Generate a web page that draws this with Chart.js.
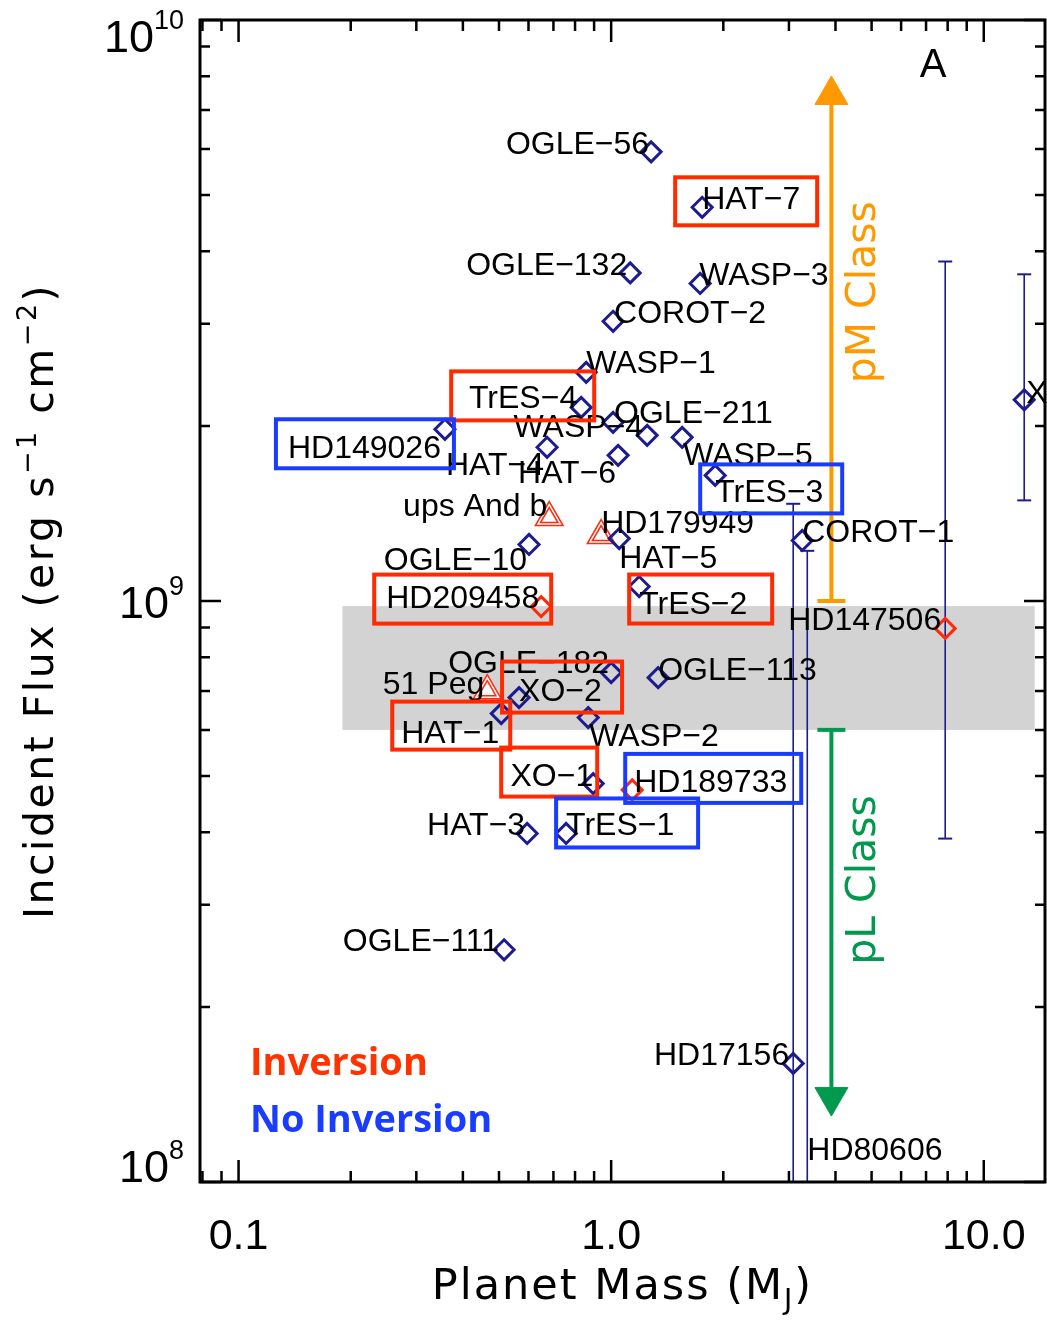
<!DOCTYPE html>
<html>
<head>
<meta charset="utf-8">
<script src="https://cdn.jsdelivr.net/npm/chart.js@4.4.1/dist/chart.umd.min.js"></script>
<style>
  html, body { margin: 0; padding: 0; background: #fff; overflow: hidden; }
  #wrap { width: 1047px; height: 1323px; }
  canvas { display: block; }
</style>
</head>
<body>
<div id="wrap"><canvas id="myChart" width="1047" height="1323"></canvas></div>
<script>
// planets drawn as navy diamonds (mass in M_J, incident flux in erg/s/cm2)
const navyNames = ['OGLE-56', 'HAT-7', 'OGLE-132', 'WASP-3', 'COROT-2', 'WASP-1', 'TrES-4', 'OGLE-211',
  'WASP-4', 'WASP-5', 'HD149026', 'HAT-4', 'HAT-6', 'TrES-3', 'HAT-5', 'COROT-1', 'OGLE-10', 'TrES-2',
  'OGLE-182', 'OGLE-113', 'XO-2', 'HAT-1', 'WASP-2', 'XO-1', 'HAT-3', 'TrES-1', 'OGLE-111', 'HD17156',
  'XO-3', 'HD80606'];
const navyMass = [1.28, 1.755, 1.125, 1.733, 1.012, 0.857, 0.831, 1.012,
  1.249, 1.551, 0.358, 0.673, 1.044, 1.902, 1.051, 3.257, 0.602, 1.189,
  1.0, 1.337, 0.566, 0.507, 0.868, 0.895, 0.595, 0.757, 0.516, 3.08,
  12.84, 3.36];
const navyFlux = [5.93e9, 4.76e9, 3.67e9, 3.52e9, 3.03e9, 2.475e9, 2.154e9, 2.03e9,
  1.928e9, 1.913e9, 1.975e9, 1.839e9, 1.781e9, 1.645e9, 1.281e9, 1.271e9, 1.251e9, 1.059e9,
  7.53e8, 7.38e8, 6.82e8, 6.40e8, 6.30e8, 4.85e8, 3.98e8, 3.98e8, 2.51e8, 1.60e8,
  2.22e9, 6.0e7];

// red diamonds
const redNames = ['HD209458', 'HD147506', 'HD189733'];
const redMass = [0.649, 7.88, 1.139];
const redFlux = [9.78e8, 8.97e8, 4.73e8];

// red triangles
const triNames = ['ups And b', 'HD179949', '51 Peg'];
const triMass = [0.682, 0.94, 0.465];
const triFlux = [1.392e9, 1.296e9, 7.01e8];

// flux ranges (error bars)
const errNames = ['HD17156', 'HD80606', 'HD147506', 'XO-3'];
const errMass = [3.08, 3.36, 7.88, 12.84];
const errHigh = [1.47e9, 1.22e9, 3.84e9, 3.65e9];
const errLow = [6.0e7, 6.0e7, 3.90e8, 1.49e9];

// class arrows and the grey transition band
const classNames = ['pM Class', 'pL Class'];
const classMass = 3.9;
const classFrom = [1.0e9, 6.0e8];
const classTo = [7.43e9, 1.40e8];
const classTextFlux = [3.4e9, 3.31e8];
const bandMass = [0.19, 13.7];
const bandFlux = [6.0e8, 9.8e8];

const xTicks = [0.1, 1, 10];
const xTickLabels = ['0.1', '1.0', '10.0'];
const yTicks = [1e8, 1e9, 1e10];
const yTickExp = ['8', '9', '10'];

const NAVY = '#1c1c8e', RED = '#ff2a0a', BOXRED = '#ff2a00', BOXBLUE = '#1a3cff';
const ORANGE = '#ff9900', GREEN = '#00994d';

// label placement: [name, align, dx, dy to baseline] (pixels from the point)
const labelSpec = [
  ['OGLE-56', 'right', -2, 2], ['HAT-7', 'left', 0, 2], ['OGLE-132', 'right', -3, 2],
  ['WASP-3', 'left', -1, 2], ['COROT-2', 'left', 1, 2], ['WASP-1', 'left', 0, 1],
  ['TrES-4', 'right', -4, 1], ['OGLE-211', 'left', 1, 1], ['WASP-4', 'right', -4, 2],
  ['WASP-5', 'left', 1, 28], ['HD149026', 'right', -4, 29], ['HAT-4', 'right', -3, 28],
  ['HAT-6', 'right', -2, 28], ['TrES-3', 'left', 0, 27], ['HAT-5', 'left', 0, 29],
  ['COROT-1', 'left', 0, 2], ['OGLE-10', 'right', -2, 26], ['TrES-2', 'left', 0, 27],
  ['OGLE-182', 'right', -2, 0], ['OGLE-113', 'left', 0, 2], ['XO-2', 'left', 0, 3],
  ['HAT-1', 'right', -2, 29], ['WASP-2', 'left', 1, 28], ['XO-1', 'right', 0, 2],
  ['HAT-3', 'right', -2, 2], ['TrES-1', 'left', 0, 2], ['OGLE-111', 'right', -5, 1, true],
  ['HD17156', 'right', -4, 2], ['XO-3', 'left', 2, 3], ['HD80606', 'left', 0, -151],
  ['HD209458', 'right', -2, 1], ['HD147506', 'right', -4, 2], ['HD189733', 'left', 2, 2],
  ['ups And b', 'right', -2, -2], ['HD179949', 'left', 0, -3], ['51 Peg', 'right', -3, 3]
];
// boxes round some labels: [name, colour, x0, x1, y0, y1] (pixels from the point)
const boxSpec = [
  ['HAT-7', BOXRED, -27, 115, -30, 18], ['TrES-4', BOXRED, -130, 13, -36, 13],
  ['HD209458', BOXRED, -167, 10, -32, 17], ['TrES-2', BOXRED, -10, 133, -12, 37],
  ['XO-2', BOXRED, -17, 103, -36, 15], ['HAT-1', BOXRED, -109, 9, -12, 36],
  ['XO-1', BOXRED, -92, 4, -36, 13], ['HD149026', BOXBLUE, -169, 9, -10, 39],
  ['TrES-3', BOXBLUE, -15, 127, -11, 38], ['HD189733', BOXBLUE, -7, 169, -36, 13],
  ['TrES-1', BOXBLUE, -10, 132, -35, 14]
];

function pts(ms, fs) { return ms.map((m, i) => ({ x: m, y: fs[i] })); }

function findPoint(name) {
  let i = navyNames.indexOf(name);
  if (i >= 0) return [navyMass[i], navyFlux[i]];
  i = redNames.indexOf(name);
  if (i >= 0) return [redMass[i], redFlux[i]];
  i = triNames.indexOf(name);
  return [triMass[i], triFlux[i]];
}

function dash(s) { return s.replace(/-/g, '\u2212'); }

// width of a string drawn char by char with extra spacing
function spacedWidth(c, s, ls) {
  let w = 0;
  for (const ch of s) w += c.measureText(ch).width + ls;
  return w;
}
function spacedText(c, s, x, y, ls) {
  for (const ch of s) { c.fillText(ch, x, y); x += c.measureText(ch).width + ls; }
}

// text with superscripts/subscripts: parts = [text, kind, shift], kind 0 normal, 1 sup, 2 sub
function richText(c, parts, x, y, font, small, ls, align) {
  c.textAlign = 'left';
  let w = 0;
  const ws = parts.map(p => { c.font = p[1] ? small : font; const m = spacedWidth(c, p[0], ls); w += m; return m; });
  let cx = align === 'center' ? x - w / 2 : (align === 'right' ? x - w : x);
  parts.forEach((p, i) => {
    c.font = p[1] ? small : font;
    const dy = p[1] === 1 ? -p[2] : (p[1] === 2 ? p[2] : 0);
    spacedText(c, p[0], cx, y + dy, ls);
    cx += ws[i];
  });
}

const bandPlugin = {
  id: 'band',
  beforeDatasetsDraw(chart) {
    const c = chart.ctx, xs = chart.scales.x, ys = chart.scales.y;
    const x0 = xs.getPixelForValue(bandMass[0]), x1 = xs.getPixelForValue(bandMass[1]);
    const y0 = ys.getPixelForValue(bandFlux[1]), y1 = ys.getPixelForValue(bandFlux[0]);
    c.save();
    c.fillStyle = '#d3d3d3';
    c.fillRect(x0, y0, x1 - x0, y1 - y0);
    c.restore();
  }
};

const decorPlugin = {
  id: 'decor',
  afterDatasetsDraw(chart) {
    const c = chart.ctx, xs = chart.scales.x, ys = chart.scales.y, a = chart.chartArea;
    c.save();
    c.textBaseline = 'alphabetic';
    // planet labels
    c.fillStyle = '#000';
    c.font = '32px "Liberation Sans"';
    labelSpec.forEach(l => {
      const p = findPoint(l[0]);
      const px = xs.getPixelForValue(p[0]), py = ys.getPixelForValue(p[1]);
      c.save();
      if (l[4]) {
        const cl = xs.getPixelForValue(bandMass[0]) - 4;
        c.beginPath(); c.rect(cl, 0, 2000, 2000); c.clip();
      }
      c.textAlign = l[1];
      c.fillText(dash(l[0]), px + l[2], py + l[3]);
      c.restore();
    });
    // boxes
    c.lineWidth = 4;
    boxSpec.forEach(b => {
      const p = findPoint(b[0]);
      const px = xs.getPixelForValue(p[0]), py = ys.getPixelForValue(p[1]);
      c.strokeStyle = b[1];
      c.strokeRect(px + b[2], py + b[4], b[3] - b[2], b[5] - b[4]);
    });
    // class texts
    classNames.forEach((t, i) => {
      const px = xs.getPixelForValue(classMass) + 44;
      const py = ys.getPixelForValue(classTextFlux[i]);
      c.save();
      c.translate(px, py);
      c.rotate(-Math.PI / 2);
      c.fillStyle = i === 0 ? ORANGE : GREEN;
      c.font = '41px "DejaVu Sans"';
      c.textAlign = 'center';
      c.fillText(t, 0, 0);
      c.restore();
    });
    // panel letter
    c.fillStyle = '#000';
    c.font = '40px "Liberation Sans"';
    c.textAlign = 'center';
    c.fillText('A', a.right - 112, a.top + 57);
    // legend
    c.textAlign = 'left';
    c.font = 'bold 38px "Open Sans"';
    c.fillStyle = '#ff3300';
    c.fillText('Inversion', a.left + 50, 1075);
    c.fillStyle = '#1a3cff';
    c.fillText('No Inversion', a.left + 50, 1132);
    c.restore();
  },
  afterDraw(chart) {
    const c = chart.ctx, xs = chart.scales.x, ys = chart.scales.y, a = chart.chartArea;
    c.save();
    c.strokeStyle = '#000';
    c.lineWidth = 2.5;
    c.beginPath();
    // x ticks, bottom and top, inward
    for (let d = -2; d <= 1; d++) {
      for (let k = 1; k <= 9; k++) {
        const v = k * Math.pow(10, d);
        if (v < xs.min || v > xs.max) continue;
        const px = xs.getPixelForValue(v), len = k === 1 ? 22 : 11;
        c.moveTo(px, a.bottom); c.lineTo(px, a.bottom - len);
        c.moveTo(px, a.top); c.lineTo(px, a.top + len);
      }
    }
    for (let d = 8; d <= 10; d++) {
      for (let k = 1; k <= 9; k++) {
        const v = k * Math.pow(10, d);
        if (v < ys.min || v > ys.max) continue;
        const py = ys.getPixelForValue(v), len = k === 1 ? 21 : 10;
        c.moveTo(a.left, py); c.lineTo(a.left + len, py);
        c.moveTo(a.right, py); c.lineTo(a.right - len, py);
      }
    }
    c.stroke();
    c.lineWidth = 3;
    c.strokeRect(a.left, a.top, a.right - a.left, a.bottom - a.top);

    // tick labels
    c.fillStyle = '#000';
    c.textBaseline = 'alphabetic';
    c.font = '43px "Liberation Sans"';
    c.textAlign = 'center';
    xTicks.forEach((v, i) => c.fillText(xTickLabels[i], xs.getPixelForValue(v), a.bottom + 67));
    yTicks.forEach((v, i) => {
      const py = ys.getPixelForValue(v);
      const base = Math.min(Math.max(py + 17, a.top + 32), a.bottom);
      c.textAlign = 'left';
      c.font = '27px "Liberation Sans"';
      const ew = c.measureText(yTickExp[i]).width;
      const right = a.left - 16;
      c.fillText(yTickExp[i], right - ew, base - 23);
      c.font = '45px "Liberation Sans"';
      c.textAlign = 'right';
      c.fillText('10', right - ew, base);
    });

    // axis titles
    richText(c, [['Planet Mass (M', 0], ['J', 2, 10], [')', 0]],
      (a.left + a.right) / 2, a.bottom + 117, '43px "DejaVu Sans"', '28px "DejaVu Sans"', 2, 'center');
    c.save();
    c.translate(53, (a.top + a.bottom) / 2);
    c.rotate(-Math.PI / 2);
    richText(c, [['Incident Flux (erg s', 0], ['\u22121', 1, 17], [' cm', 0], ['\u22122', 1, 17], [')', 0]],
      0, 0, '41px "DejaVu Sans"', '27px "DejaVu Sans"', 2.5, 'center');
    c.restore();
    c.restore();
  }
};

const datasets = [
  {
    label: 'navy', data: pts(navyMass, navyFlux), order: 1,
    pointStyle: 'rectRot', pointRadius: 10, pointBorderWidth: 3,
    pointBorderColor: NAVY, pointBackgroundColor: 'rgba(0,0,0,0)'
  },
  {
    label: 'red', data: pts(redMass, redFlux), order: 2,
    pointStyle: 'rectRot', pointRadius: 10, pointBorderWidth: 3,
    pointBorderColor: RED, pointBackgroundColor: 'rgba(0,0,0,0)'
  },
  {
    label: 'tri outer', data: pts(triMass, triFlux), order: 3,
    pointStyle: 'triangle', pointRadius: 16, pointBorderWidth: 1.5,
    pointBorderColor: RED, pointBackgroundColor: 'rgba(255,255,255,0.9)'
  },
  {
    label: 'tri inner', data: pts(triMass, triFlux), order: 2.5,
    pointStyle: 'triangle', pointRadius: 10, pointBorderWidth: 1.5,
    pointBorderColor: RED, pointBackgroundColor: 'rgba(0,0,0,0)'
  }
];
classNames.forEach((n, i) => {
  const col = i === 0 ? ORANGE : GREEN;
  datasets.push({
    type: 'line', label: n, order: 5,
    data: [{ x: classMass, y: classFrom[i] }, { x: classMass, y: classTo[i] }],
    borderColor: col, borderWidth: 4, showLine: true,
    pointStyle: ['line', 'triangle'], pointRadius: [14, 19], pointBorderWidth: [4, 1],
    pointRotation: [0, i === 0 ? 0 : 180],
    pointBorderColor: col, pointBackgroundColor: col
  });
});
errNames.forEach((n, i) => {
  datasets.push({
    type: 'line', label: n + ' range', order: 6,
    data: [{ x: errMass[i], y: errHigh[i] }, { x: errMass[i], y: errLow[i] }],
    borderColor: NAVY, borderWidth: 1.6, showLine: true,
    pointStyle: 'line', pointRadius: 7, pointBorderWidth: 2, pointBorderColor: NAVY
  });
});

const ctx = document.getElementById('myChart');
new Chart(ctx, {
  type: 'scatter',
  data: { datasets: datasets },
  options: {
    responsive: false,
    animation: false,
    events: [],
    layout: { autoPadding: false, padding: { left: 200, right: 2, top: 20, bottom: 141 } },
    plugins: { legend: { display: false }, tooltip: { enabled: false } },
    scales: {
      x: { type: 'logarithmic', min: 0.0788, max: 14.6, display: false },
      y: { type: 'logarithmic', min: 1e8, max: 1e10, display: false }
    }
  },
  plugins: [bandPlugin, decorPlugin]
});
</script>
</body>
</html>
